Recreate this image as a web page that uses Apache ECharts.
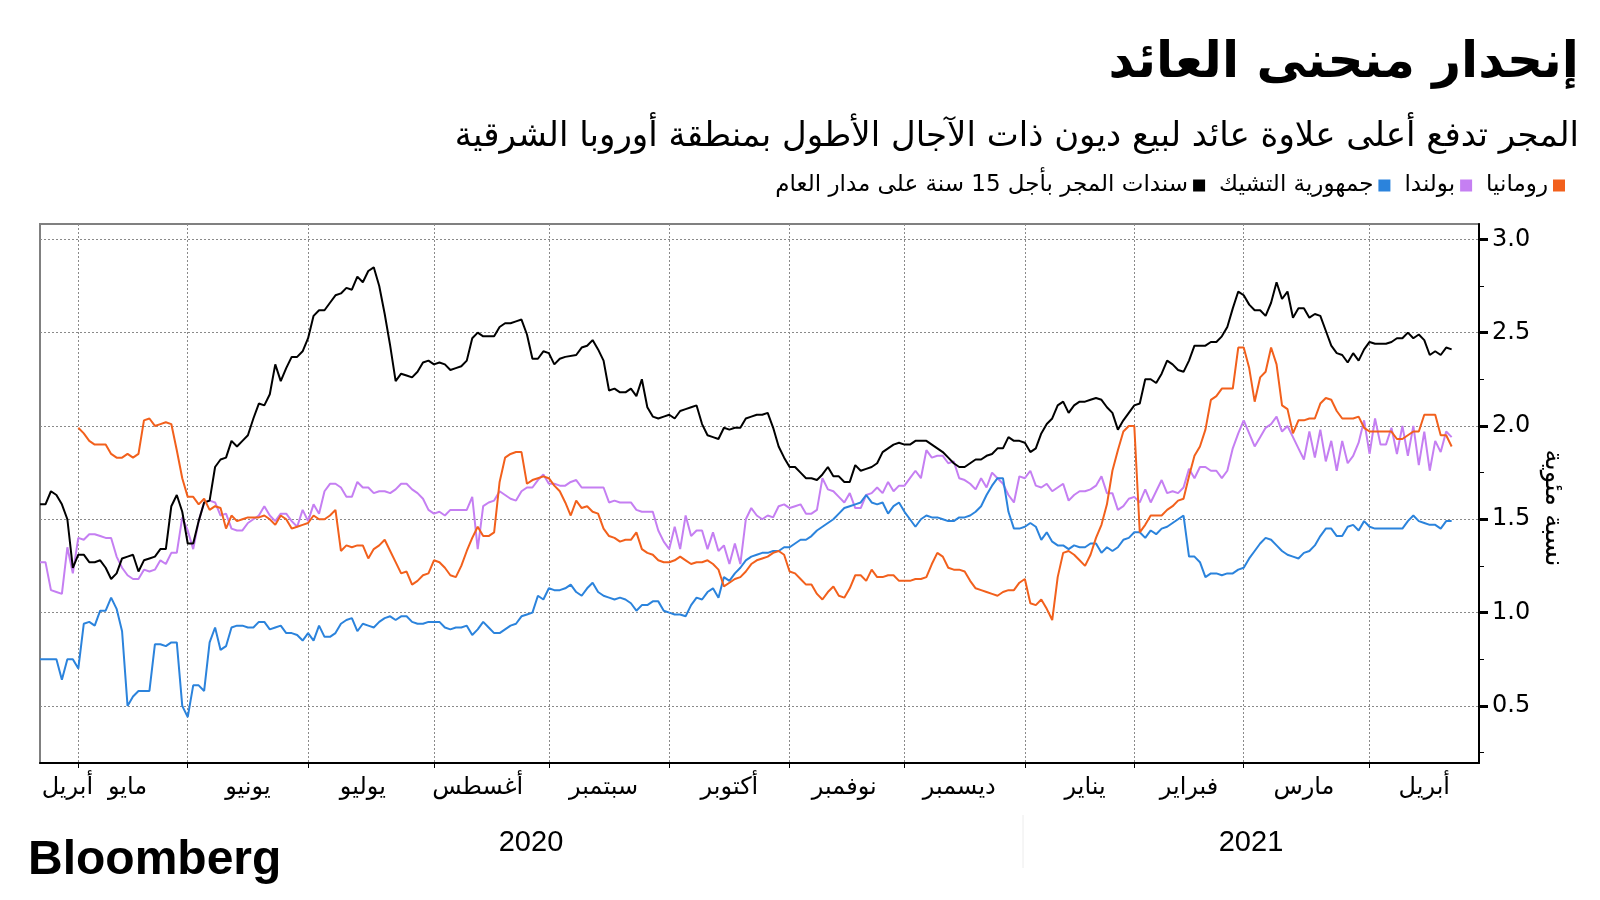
<!DOCTYPE html>
<html>
<head>
<meta charset="utf-8">
<script src="https://cdn.jsdelivr.net/npm/echarts@6.0.0/dist/echarts.min.js"></script>
<style>
  html, body { margin: 0; padding: 0; background: #fff; }
  #chart { width: 1600px; height: 900px; }
</style>
</head>
<body>
<div id="chart"></div>
<script>
// ---------------- DATA ----------------
const titleText = 'إنحدار منحنى العائد';
const subtitleText = 'المجر تدفع أعلى علاوة عائد لبيع ديون ذات الآجال الأطول بمنطقة أوروبا الشرقية';
const yAxisName = 'نسبة مئوية';
const sourceText = 'Bloomberg';

const seriesNames = {
  hungary: 'سندات المجر بأجل 15 سنة على مدار العام',
  czech: 'جمهورية التشيك',
  poland: 'بولندا',
  romania: 'رومانيا'
};

// trading-day calendar (weekdays, minus market holidays)
const startDate = '2020-04-22';
const endDate = '2021-04-29';
const holidays = ['2020-05-01', '2020-12-25', '2021-01-01'];

const monthLabels = ['أبريل','مايو','يونيو','يوليو','أغسطس','سبتمبر','أكتوبر','نوفمبر','ديسمبر','يناير','فبراير','مارس','أبريل'];
const monthLabelDates = ['2020-04-29','2020-05-15','2020-06-16','2020-07-15','2020-08-13','2020-09-15','2020-10-16','2020-11-16','2020-12-15','2021-01-19','2021-02-15','2021-03-16','2021-04-15'];
const yearLabels = ['2020', '2021'];

const yTicks = [0.5, 1.0, 1.5, 2.0, 2.5, 3.0];
const yMinorTicks = [0.25, 0.75, 1.25, 1.75, 2.25, 2.75];

const hungary = [
1.58,1.58,1.65,1.63,1.58,1.50,1.24,1.31,1.31,1.27,
1.27,1.28,1.24,1.18,1.21,1.29,1.30,1.31,1.22,1.28,
1.29,1.30,1.34,1.34,1.57,1.63,1.54,1.37,1.37,1.49,
1.59,1.60,1.78,1.82,1.83,1.92,1.89,1.92,1.95,2.04,
2.12,2.11,2.17,2.33,2.24,2.31,2.37,2.37,2.40,2.47,
2.59,2.62,2.62,2.66,2.70,2.71,2.74,2.73,2.80,2.77,
2.83,2.85,2.75,2.60,2.43,2.24,2.28,2.27,2.26,2.29,
2.34,2.35,2.33,2.34,2.33,2.30,2.31,2.32,2.35,2.47,
2.50,2.48,2.48,2.48,2.53,2.55,2.55,2.56,2.57,2.49,
2.36,2.36,2.40,2.39,2.33,2.36,2.37,null,2.38,2.42,
2.43,2.46,2.41,2.35,2.19,2.20,2.18,2.18,2.20,2.16,
2.25,2.10,2.05,2.04,2.05,2.06,2.04,2.08,2.09,2.10,
2.11,2.01,1.95,1.94,1.93,1.99,1.98,1.99,1.99,2.04,
2.05,2.06,2.06,2.07,1.99,1.89,1.83,1.78,1.78,1.75,
1.72,1.72,1.71,1.74,1.78,1.73,1.73,1.70,1.70,1.79,
1.76,1.77,1.78,1.80,1.86,1.88,1.90,1.91,1.90,1.90,
1.92,1.92,1.92,1.90,1.88,1.86,1.83,1.80,1.78,1.78,
1.80,1.82,1.82,1.84,1.85,1.88,1.88,1.94,1.92,1.92,
1.91,1.86,1.88,1.96,2.01,2.04,2.11,2.13,2.07,2.11,
2.13,2.13,2.14,2.15,2.14,2.10,2.07,1.98,2.03,2.07,
2.11,2.12,2.25,2.25,2.23,2.28,2.35,2.33,2.30,2.29,
2.35,2.43,2.43,2.43,2.45,2.45,2.48,2.53,2.63,2.72,
2.70,2.65,2.62,2.62,2.59,2.66,2.77,2.68,2.72,2.58,
2.63,2.63,2.58,2.60,2.59,2.51,2.43,2.39,2.38,2.34,
2.39,2.35,2.41,2.45,2.44,2.44,2.44,2.45,2.47,2.47,
2.50,2.47,2.49,2.46,2.38,2.40,2.38,2.42,2.41
];

const czech = [
0.75,0.75,0.75,0.75,0.64,0.75,0.75,0.70,0.94,0.95,
0.93,1.01,1.01,1.08,1.02,0.90,0.50,0.55,0.58,0.58,
0.58,0.83,0.83,0.82,0.84,0.84,0.50,0.44,0.61,0.61,
0.58,0.84,0.92,0.80,0.82,0.92,0.93,0.93,0.92,0.92,
0.95,0.95,0.91,0.92,0.93,0.89,0.89,0.88,0.85,0.89,
0.85,0.93,0.87,0.87,0.89,0.94,0.96,0.97,0.90,0.94,
0.93,0.92,0.95,0.97,0.98,0.96,0.98,0.98,0.95,0.94,
0.94,0.95,0.95,0.95,0.92,0.91,0.92,0.92,0.93,0.88,
0.91,0.95,0.92,0.89,0.89,0.91,0.93,0.94,0.98,0.99,
1.00,1.09,1.07,1.13,1.12,1.12,1.13,1.15,1.11,1.09,
1.13,1.16,1.11,1.09,1.08,1.07,1.08,1.07,1.05,1.01,
1.04,1.04,1.06,1.06,1.01,1.00,0.99,0.99,0.98,1.04,
1.08,1.07,1.11,1.13,1.08,1.19,1.17,1.21,1.24,1.28,
1.30,1.31,1.32,1.32,1.33,1.33,1.35,1.35,1.37,1.39,
1.39,1.41,1.44,1.46,1.48,1.50,1.53,1.56,1.57,1.58,
1.59,1.63,1.59,1.58,1.59,1.53,1.57,1.59,1.54,1.50,
1.46,1.50,1.52,1.51,1.51,1.50,1.49,1.49,1.51,1.51,
1.52,1.54,1.57,1.63,1.68,1.72,1.72,1.54,1.45,1.45,
1.46,1.48,1.46,1.39,1.43,1.38,1.36,1.36,1.34,1.36,
1.35,1.35,1.37,1.37,1.32,1.35,1.33,1.35,1.39,1.40,
1.43,1.43,1.40,1.44,1.42,1.45,1.46,1.48,1.50,1.52,
1.30,1.30,1.27,1.19,1.21,1.21,1.20,1.21,1.21,1.23,
1.24,1.29,1.33,1.37,1.40,1.39,1.36,1.33,1.31,1.30,
1.29,1.32,1.33,1.36,1.41,1.45,1.45,1.41,1.41,1.46,
1.47,1.44,1.49,1.46,1.45,1.45,1.45,1.45,1.45,1.45,
1.49,1.52,1.49,1.48,1.47,1.47,1.45,1.49,1.49
];

const poland = [
1.27,1.27,1.12,1.11,1.10,1.35,1.21,1.40,1.39,1.42,
1.42,1.41,1.40,1.40,1.30,1.24,1.20,1.18,1.18,1.23,
1.22,1.23,1.28,1.26,1.32,1.32,1.51,1.44,1.34,1.49,
1.59,1.60,1.59,1.52,1.53,1.45,1.44,1.44,1.48,1.50,
1.52,1.57,1.52,1.49,1.53,1.53,1.49,1.46,1.55,1.49,
1.58,1.53,1.65,1.69,1.69,1.67,1.62,1.62,1.70,1.67,
1.67,1.64,1.65,1.65,1.64,1.66,1.69,1.69,1.66,1.64,
1.61,1.55,1.53,1.54,1.52,1.55,1.55,1.55,1.55,1.62,
1.34,1.57,1.59,1.60,1.65,1.63,1.61,1.60,1.65,1.67,
1.67,1.71,1.74,1.69,1.69,1.68,1.68,1.70,1.71,1.67,
1.67,1.67,1.67,1.67,1.59,1.60,1.59,1.59,1.59,1.55,
1.54,1.54,1.54,1.44,1.38,1.34,1.46,1.34,1.52,1.41,
1.44,1.44,1.34,1.43,1.33,1.36,1.26,1.37,1.26,1.50,
1.56,1.52,1.50,1.52,1.51,1.57,1.58,1.56,1.57,1.58,
1.53,1.53,1.55,1.72,1.66,1.65,1.62,1.59,1.64,1.56,
1.56,1.63,1.64,1.67,1.64,1.70,1.65,1.68,1.68,1.72,
1.76,1.72,1.87,1.83,1.84,1.84,1.80,1.81,1.72,1.71,
1.69,1.66,1.72,1.67,1.75,1.72,1.69,1.63,1.59,1.73,
1.72,1.76,1.68,1.67,1.69,1.65,1.67,1.69,1.60,1.63,
1.65,1.65,1.66,1.68,1.73,1.64,1.64,1.55,1.57,1.61,
1.62,1.59,1.66,1.59,1.65,1.71,1.64,1.65,1.64,1.67,
1.77,1.72,1.78,1.78,1.76,1.76,1.72,1.76,1.88,1.96,
2.03,1.96,1.89,1.94,1.99,2.01,2.05,1.97,2.00,1.94,
1.88,1.82,1.97,1.83,1.98,1.81,1.92,1.76,1.92,1.80,
1.84,1.91,2.03,1.85,2.04,1.90,1.90,1.99,1.85,2.00,
1.84,2.00,1.79,1.97,1.76,1.92,1.86,1.97,1.94
];

const romania = [
null,null,null,null,null,null,null,1.99,1.96,1.92,
1.90,1.90,1.90,1.85,1.83,1.83,1.85,1.83,1.85,2.03,
2.04,2.00,2.01,2.02,2.01,1.87,1.72,1.62,1.62,1.58,
1.61,1.55,1.57,1.56,1.45,1.52,1.49,1.50,1.51,1.51,
1.51,1.52,1.50,1.47,1.52,1.50,1.45,1.46,1.47,1.48,
1.52,1.50,1.50,1.52,1.55,1.33,1.36,1.35,1.36,1.36,
1.29,1.34,1.36,1.39,1.33,1.27,1.21,1.22,1.15,1.17,
1.20,1.21,1.28,1.27,1.24,1.20,1.19,1.25,1.33,1.40,
1.46,1.41,1.41,1.43,1.70,1.83,1.85,1.86,1.86,1.69,
1.71,1.72,1.73,1.72,1.68,1.65,1.59,1.52,1.60,1.56,
1.57,1.54,1.53,1.45,1.41,1.40,1.38,1.39,1.39,1.43,
1.34,1.32,1.31,1.28,1.27,1.27,1.28,1.30,1.28,1.26,
1.27,1.27,1.28,1.26,1.23,1.14,1.16,1.18,1.19,1.22,
1.26,1.28,1.29,1.30,1.32,1.33,1.31,1.22,1.21,1.18,
1.15,1.15,1.10,1.07,1.11,1.14,1.09,1.08,1.13,1.20,
1.20,1.17,1.23,1.19,1.19,1.20,1.20,1.17,1.17,1.17,
1.18,1.18,1.19,1.26,1.32,1.30,1.24,1.23,1.23,1.22,
1.17,1.13,1.12,1.11,1.10,1.09,1.11,1.12,1.12,1.16,
1.18,1.05,1.04,1.07,1.02,0.96,1.19,1.32,1.33,1.31,
1.28,1.25,1.31,1.40,1.47,1.58,1.76,1.87,1.97,2.00,
2.00,1.43,1.47,1.52,1.52,1.52,1.55,1.57,1.60,1.61,
1.73,1.84,1.89,1.98,2.14,2.16,2.20,2.20,2.20,2.42,
2.42,2.31,2.13,2.26,2.29,2.42,2.33,2.11,2.09,1.96,
2.03,2.03,2.04,2.04,2.12,2.15,2.14,2.08,2.04,2.04,
2.04,2.05,1.99,1.97,1.97,1.97,1.97,1.97,1.93,1.93,
1.95,1.97,1.97,2.06,2.06,2.06,1.95,1.95,1.89
];

// ---------------- BUILD ----------------
function buildTradingDays(start, end, hol) {
  const out = [];
  const d = new Date(start + 'T00:00:00Z');
  const e = new Date(end + 'T00:00:00Z');
  const hs = new Set(hol);
  while (d <= e) {
    const wd = d.getUTCDay();
    const s = d.toISOString().slice(0, 10);
    if (wd !== 0 && wd !== 6 && !hs.has(s)) out.push(s);
    d.setUTCDate(d.getUTCDate() + 1);
  }
  return out;
}
const dates = buildTradingDays(startDate, endDate, holidays);

const monthStart = new Set();
for (let i = 1; i < dates.length; i++) {
  if (dates[i].slice(0, 7) !== dates[i - 1].slice(0, 7)) monthStart.add(i);
}
const labelAt = new Map();
monthLabelDates.forEach((ds, k) => {
  const i = dates.indexOf(ds);
  if (i >= 0) labelAt.set(i, monthLabels[k]);
});

const COLORS = { hungary: '#000000', czech: '#2b83dc', poland: '#c57ff2', romania: '#f2601c' };
const FONT = '"DejaVu Sans", sans-serif';
const grid = { left: 40, right: 121, top: 224, bottom: 137 };
const yMin = 0.194, yMax = 3.082;

function lineSeries(key, data, z) {
  return {
    name: seriesNames[key], type: 'line', data: data,
    showSymbol: false, symbol: 'none', connectNulls: true,
    lineStyle: { color: COLORS[key], width: 2 },
    itemStyle: { color: COLORS[key] },
    z: z, animation: false
  };
}

const chart = echarts.init(document.getElementById('chart'), null, { renderer: 'canvas' });
const dotted = { color: '#8a8a8a', width: 1, type: [2, 2] };

chart.setOption({
  animation: false,
  backgroundColor: '#ffffff',
  textStyle: { fontFamily: FONT },
  grid: Object.assign({ show: true, borderColor: '#808080', borderWidth: 2, backgroundColor: 'transparent' }, grid),
  legend: {
    right: 30, top: 169, align: 'right', icon: 'rect',
    itemWidth: 12, itemHeight: 12, itemGap: 14,
    textStyle: { fontFamily: FONT, fontSize: 23, color: '#000' },
    data: [seriesNames.hungary, seriesNames.czech, seriesNames.poland, seriesNames.romania]
  },
  xAxis: {
    type: 'category', data: dates, boundaryGap: false,
    axisLine: { onZero: false, lineStyle: { color: '#000', width: 2 } },
    axisTick: { show: true, interval: (i) => monthStart.has(i), length: 5, lineStyle: { color: '#000', width: 1 } },
    axisLabel: {
      interval: (i) => labelAt.has(i),
      formatter: (v, i) => labelAt.get(i) || '',
      fontFamily: FONT, fontSize: 24, color: '#000', margin: 13
    },
    splitLine: { show: true, interval: (i) => monthStart.has(i), lineStyle: dotted }
  },
  yAxis: [
    {
      type: 'value', position: 'right', min: yMin, max: yMax,
      axisLine: { show: true, lineStyle: { color: '#000', width: 2 } },
      axisTick: { show: true, customValues: yTicks, length: 9, lineStyle: { color: '#000', width: 3 } },
      axisLabel: { customValues: yTicks, formatter: (v) => v.toFixed(1), fontFamily: FONT, fontSize: 24, color: '#000', margin: 13 },
      splitLine: { show: true, lineStyle: dotted }
    },
    {
      type: 'value', position: 'right', min: yMin, max: yMax,
      axisLine: { show: false },
      axisTick: { show: true, customValues: yMinorTicks, length: 5, lineStyle: { color: '#000', width: 1 } },
      axisLabel: { show: false, customValues: yMinorTicks },
      splitLine: { show: false }
    }
  ],
  series: [
    lineSeries('hungary', hungary, 4),
    lineSeries('czech', czech, 3),
    lineSeries('poland', poland, 2),
    lineSeries('romania', romania, 5)
  ],
  graphic: [
    { type: 'text', x: 1579, y: 64, style: { text: titleText, font: 'bold 50px ' + FONT, fill: '#000', align: 'right', verticalAlign: 'middle' } },
    { type: 'text', x: 1579, y: 137, style: { text: subtitleText, font: '34px ' + FONT, fill: '#000', align: 'right', verticalAlign: 'middle' } },
    { type: 'text', x: 1553, y: 508, rotation: -Math.PI / 2, style: { text: yAxisName, font: '26px ' + FONT, fill: '#000', align: 'center', verticalAlign: 'middle' } },
    { type: 'text', x: 531, y: 843, style: { text: yearLabels[0], font: '29px "Liberation Sans Narrow", sans-serif', fill: '#000', align: 'center', verticalAlign: 'middle' } },
    { type: 'text', x: 1251, y: 843, style: { text: yearLabels[1], font: '29px "Liberation Sans Narrow", sans-serif', fill: '#000', align: 'center', verticalAlign: 'middle' } },
    { type: 'line', shape: { x1: 1023, y1: 815, x2: 1023, y2: 868 }, style: { stroke: '#ececec', lineWidth: 1 } },
    { type: 'text', x: 28, y: 861, style: { text: sourceText, font: 'bold 48px "Liberation Sans", Arial, sans-serif', fill: '#000', align: 'left', verticalAlign: 'middle' } }
  ]
});
</script>
</body>
</html>
